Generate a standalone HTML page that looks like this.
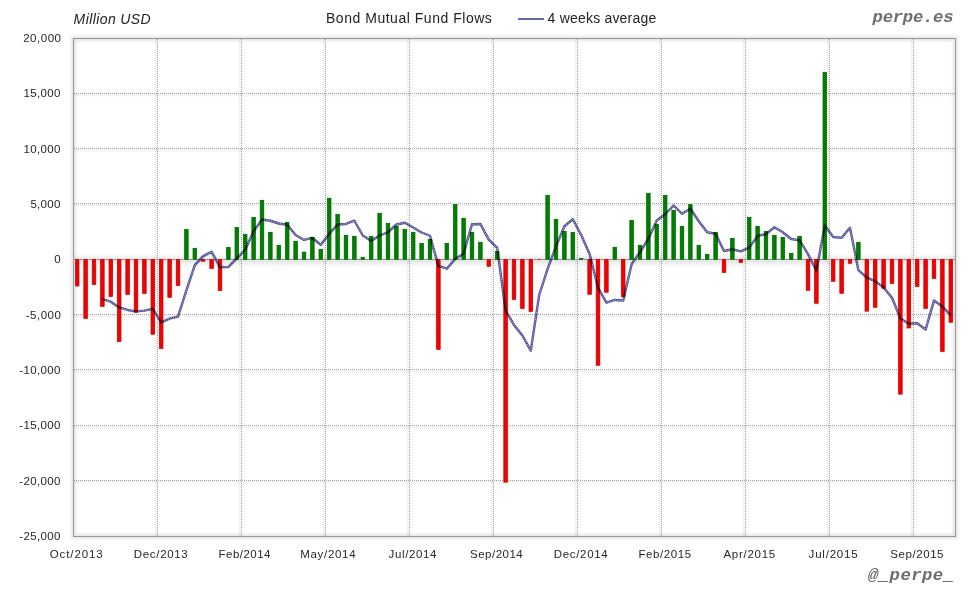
<!DOCTYPE html>
<html><head><meta charset="utf-8"><title>Bond Mutual Fund Flows</title>
<style>
html,body{margin:0;padding:0;background:#fff;}
body{width:980px;height:600px;overflow:hidden;}
svg{display:block;}
text{font-family:"Liberation Sans",sans-serif;}
.ax{font-size:11.5px;fill:#262626;}
.hd{font-size:14px;fill:#222;}
.g{fill:#008000;stroke:#005a00;stroke-width:0.7;}
.r{fill:#f80000;stroke:#b40000;stroke-width:0.7;}
.grid line{stroke:#a0a0a0;stroke-width:1;stroke-dasharray:1 1;}
.wm{font-family:"Liberation Mono",monospace;font-size:17.3px;font-weight:bold;font-style:italic;fill:#6e6e6e;}
</style></head>
<body>
<svg width="980" height="600" viewBox="0 0 980 600">
<defs>
<linearGradient id="zsh" x1="0" y1="0" x2="0" y2="1">
<stop offset="0" stop-color="#000" stop-opacity="0"/>
<stop offset="1" stop-color="#000" stop-opacity="0.09"/>
</linearGradient>
<linearGradient id="zsh2" x1="0" y1="0" x2="0" y2="1">
<stop offset="0" stop-color="#000" stop-opacity="0.11"/>
<stop offset="1" stop-color="#000" stop-opacity="0"/>
</linearGradient>
<filter id="blur" x="-5%" y="-5%" width="110%" height="110%"><feGaussianBlur stdDeviation="1.8"/></filter>
</defs>
<rect width="980" height="600" fill="#fff"/>
<rect x="73.5" y="38.5" width="882" height="498" fill="none" stroke="#000" stroke-opacity="0.10" stroke-width="5" filter="url(#blur)"/>
<g fill="#000" fill-opacity="0.045"><rect x="74" y="94.0" width="881" height="2.5"/><rect x="74" y="149.0" width="881" height="2.5"/><rect x="74" y="204.0" width="881" height="2.5"/><rect x="74" y="315.0" width="881" height="2.5"/><rect x="74" y="370.0" width="881" height="2.5"/><rect x="74" y="426.0" width="881" height="2.5"/><rect x="74" y="481.0" width="881" height="2.5"/><rect x="154.5" y="39" width="2.5" height="497"/><rect x="238.5" y="39" width="2.5" height="497"/><rect x="322.5" y="39" width="2.5" height="497"/><rect x="406.5" y="39" width="2.5" height="497"/><rect x="490.5" y="39" width="2.5" height="497"/><rect x="574.5" y="39" width="2.5" height="497"/><rect x="658.5" y="39" width="2.5" height="497"/><rect x="742.5" y="39" width="2.5" height="497"/><rect x="826.5" y="39" width="2.5" height="497"/><rect x="910.5" y="39" width="2.5" height="497"/></g>
<g class="grid"><line x1="74" y1="93.5" x2="955" y2="93.5"/><line x1="74" y1="148.5" x2="955" y2="148.5"/><line x1="74" y1="203.5" x2="955" y2="203.5"/><line x1="74" y1="314.5" x2="955" y2="314.5"/><line x1="74" y1="369.5" x2="955" y2="369.5"/><line x1="74" y1="425.5" x2="955" y2="425.5"/><line x1="74" y1="480.5" x2="955" y2="480.5"/><line x1="157.5" y1="39" x2="157.5" y2="536"/><line x1="241.5" y1="39" x2="241.5" y2="536"/><line x1="325.5" y1="39" x2="325.5" y2="536"/><line x1="409.5" y1="39" x2="409.5" y2="536"/><line x1="493.5" y1="39" x2="493.5" y2="536"/><line x1="577.5" y1="39" x2="577.5" y2="536"/><line x1="661.5" y1="39" x2="661.5" y2="536"/><line x1="745.5" y1="39" x2="745.5" y2="536"/><line x1="829.5" y1="39" x2="829.5" y2="536"/><line x1="913.5" y1="39" x2="913.5" y2="536"/></g>
<rect x="74" y="254" width="881" height="5" fill="url(#zsh)"/>
<rect x="74" y="260" width="881" height="7" fill="url(#zsh2)"/>
<line x1="74" y1="259.5" x2="955" y2="259.5" stroke="#8a8a8a" stroke-width="1"/>
<g><rect fill="#fde6e6" x="74.30" y="259.33" width="5.80" height="27.77"/><rect fill="#fde6e6" x="82.70" y="259.33" width="5.80" height="60.17"/><rect fill="#fde6e6" x="91.10" y="259.33" width="5.80" height="26.17"/><rect fill="#fde6e6" x="99.50" y="259.33" width="5.80" height="48.17"/><rect fill="#fde6e6" x="107.90" y="259.33" width="5.80" height="38.17"/><rect fill="#fde6e6" x="116.30" y="259.33" width="5.80" height="83.17"/><rect fill="#fde6e6" x="124.70" y="259.33" width="5.80" height="36.17"/><rect fill="#fde6e6" x="133.10" y="259.33" width="5.80" height="53.97"/><rect fill="#fde6e6" x="141.50" y="259.33" width="5.80" height="35.17"/><rect fill="#fde6e6" x="149.90" y="259.33" width="5.80" height="76.07"/><rect fill="#fde6e6" x="158.30" y="259.33" width="5.80" height="90.17"/><rect fill="#fde6e6" x="166.70" y="259.33" width="5.80" height="39.07"/><rect fill="#fde6e6" x="175.10" y="259.33" width="5.80" height="27.27"/><rect fill="#e6fbe6" x="183.50" y="228.30" width="5.80" height="31.03"/><rect fill="#e6fbe6" x="191.90" y="247.20" width="5.80" height="12.13"/><rect fill="#fde6e6" x="200.30" y="259.33" width="5.80" height="3.07"/><rect fill="#fde6e6" x="208.70" y="259.33" width="5.80" height="10.17"/><rect fill="#fde6e6" x="217.10" y="259.33" width="5.80" height="32.17"/><rect fill="#e6fbe6" x="225.50" y="246.30" width="5.80" height="13.03"/><rect fill="#e6fbe6" x="233.90" y="226.30" width="5.80" height="33.03"/><rect fill="#e6fbe6" x="242.30" y="233.20" width="5.80" height="26.13"/><rect fill="#e6fbe6" x="250.70" y="216.20" width="5.80" height="43.13"/><rect fill="#e6fbe6" x="259.10" y="199.20" width="5.80" height="60.13"/><rect fill="#e6fbe6" x="267.50" y="231.20" width="5.80" height="28.13"/><rect fill="#e6fbe6" x="275.90" y="244.20" width="5.80" height="15.13"/><rect fill="#e6fbe6" x="284.30" y="221.20" width="5.80" height="38.13"/><rect fill="#e6fbe6" x="292.70" y="240.20" width="5.80" height="19.13"/><rect fill="#e6fbe6" x="301.10" y="251.00" width="5.80" height="8.33"/><rect fill="#e6fbe6" x="309.50" y="236.20" width="5.80" height="23.13"/><rect fill="#e6fbe6" x="317.90" y="248.20" width="5.80" height="11.13"/><rect fill="#e6fbe6" x="326.30" y="197.10" width="5.80" height="62.23"/><rect fill="#e6fbe6" x="334.70" y="213.20" width="5.80" height="46.13"/><rect fill="#e6fbe6" x="343.10" y="234.20" width="5.80" height="25.13"/><rect fill="#e6fbe6" x="351.50" y="235.20" width="5.80" height="24.13"/><rect fill="#e6fbe6" x="359.90" y="256.20" width="5.80" height="3.13"/><rect fill="#e6fbe6" x="368.30" y="235.20" width="5.80" height="24.13"/><rect fill="#e6fbe6" x="376.70" y="212.20" width="5.80" height="47.13"/><rect fill="#e6fbe6" x="385.10" y="222.20" width="5.80" height="37.13"/><rect fill="#e6fbe6" x="393.50" y="225.20" width="5.80" height="34.13"/><rect fill="#e6fbe6" x="401.90" y="228.20" width="5.80" height="31.13"/><rect fill="#e6fbe6" x="410.30" y="231.20" width="5.80" height="28.13"/><rect fill="#e6fbe6" x="418.70" y="242.20" width="5.80" height="17.13"/><rect fill="#e6fbe6" x="427.10" y="238.20" width="5.80" height="21.13"/><rect fill="#fde6e6" x="435.50" y="259.33" width="5.80" height="91.17"/><rect fill="#e6fbe6" x="443.90" y="242.20" width="5.80" height="17.13"/><rect fill="#e6fbe6" x="452.30" y="203.20" width="5.80" height="56.13"/><rect fill="#e6fbe6" x="460.70" y="217.20" width="5.80" height="42.13"/><rect fill="#e6fbe6" x="469.10" y="231.20" width="5.80" height="28.13"/><rect fill="#e6fbe6" x="477.50" y="241.20" width="5.80" height="18.13"/><rect fill="#fde6e6" x="485.90" y="259.33" width="5.80" height="8.07"/><rect fill="#e6fbe6" x="494.30" y="250.20" width="5.80" height="9.13"/><rect fill="#fde6e6" x="502.70" y="259.33" width="5.80" height="223.97"/><rect fill="#fde6e6" x="511.10" y="259.33" width="5.80" height="41.17"/><rect fill="#fde6e6" x="519.50" y="259.33" width="5.80" height="50.17"/><rect fill="#fde6e6" x="527.90" y="259.33" width="5.80" height="53.17"/><rect fill="#fde6e6" x="536.30" y="259.33" width="5.80" height="1.37"/><rect fill="#e6fbe6" x="544.70" y="194.20" width="5.80" height="65.13"/><rect fill="#e6fbe6" x="553.10" y="218.20" width="5.80" height="41.13"/><rect fill="#e6fbe6" x="561.50" y="230.20" width="5.80" height="29.13"/><rect fill="#e6fbe6" x="569.90" y="231.20" width="5.80" height="28.13"/><rect fill="#e6fbe6" x="578.30" y="257.20" width="5.80" height="2.13"/><rect fill="#fde6e6" x="586.70" y="259.33" width="5.80" height="36.07"/><rect fill="#fde6e6" x="595.10" y="259.33" width="5.80" height="107.07"/><rect fill="#fde6e6" x="603.50" y="259.33" width="5.80" height="34.07"/><rect fill="#e6fbe6" x="611.90" y="246.20" width="5.80" height="13.13"/><rect fill="#fde6e6" x="620.30" y="259.33" width="5.80" height="38.47"/><rect fill="#e6fbe6" x="628.70" y="219.20" width="5.80" height="40.13"/><rect fill="#e6fbe6" x="637.10" y="244.20" width="5.80" height="15.13"/><rect fill="#e6fbe6" x="645.50" y="192.20" width="5.80" height="67.13"/><rect fill="#e6fbe6" x="653.90" y="223.20" width="5.80" height="36.13"/><rect fill="#e6fbe6" x="662.30" y="194.20" width="5.80" height="65.13"/><rect fill="#e6fbe6" x="670.70" y="209.20" width="5.80" height="50.13"/><rect fill="#e6fbe6" x="679.10" y="225.20" width="5.80" height="34.13"/><rect fill="#e6fbe6" x="687.50" y="203.20" width="5.80" height="56.13"/><rect fill="#e6fbe6" x="695.90" y="244.20" width="5.80" height="15.13"/><rect fill="#e6fbe6" x="704.30" y="253.20" width="5.80" height="6.13"/><rect fill="#e6fbe6" x="712.70" y="231.40" width="5.80" height="27.93"/><rect fill="#fde6e6" x="721.10" y="259.33" width="5.80" height="14.17"/><rect fill="#e6fbe6" x="729.50" y="237.20" width="5.80" height="22.13"/><rect fill="#fde6e6" x="737.90" y="259.33" width="5.80" height="4.17"/><rect fill="#e6fbe6" x="746.30" y="216.20" width="5.80" height="43.13"/><rect fill="#e6fbe6" x="754.70" y="225.20" width="5.80" height="34.13"/><rect fill="#e6fbe6" x="763.10" y="230.20" width="5.80" height="29.13"/><rect fill="#e6fbe6" x="771.50" y="234.20" width="5.80" height="25.13"/><rect fill="#e6fbe6" x="779.90" y="236.20" width="5.80" height="23.13"/><rect fill="#e6fbe6" x="788.30" y="252.20" width="5.80" height="7.13"/><rect fill="#e6fbe6" x="796.70" y="235.20" width="5.80" height="24.13"/><rect fill="#fde6e6" x="805.10" y="259.33" width="5.80" height="32.07"/><rect fill="#fde6e6" x="813.50" y="259.33" width="5.80" height="45.07"/><rect fill="#e6fbe6" x="821.90" y="71.30" width="5.80" height="188.03"/><rect fill="#fde6e6" x="830.30" y="259.33" width="5.80" height="23.07"/><rect fill="#fde6e6" x="838.70" y="259.33" width="5.80" height="35.07"/><rect fill="#fde6e6" x="847.10" y="259.33" width="5.80" height="5.07"/><rect fill="#e6fbe6" x="855.50" y="241.20" width="5.80" height="18.13"/><rect fill="#fde6e6" x="863.90" y="259.33" width="5.80" height="52.97"/><rect fill="#fde6e6" x="872.30" y="259.33" width="5.80" height="49.07"/><rect fill="#fde6e6" x="880.70" y="259.33" width="5.80" height="29.97"/><rect fill="#fde6e6" x="889.10" y="259.33" width="5.80" height="25.17"/><rect fill="#fde6e6" x="897.50" y="259.33" width="5.80" height="135.97"/><rect fill="#fde6e6" x="905.90" y="259.33" width="5.80" height="69.77"/><rect fill="#fde6e6" x="914.30" y="259.33" width="5.80" height="28.17"/><rect fill="#fde6e6" x="922.70" y="259.33" width="5.80" height="50.17"/><rect fill="#fde6e6" x="931.10" y="259.33" width="5.80" height="20.17"/><rect fill="#fde6e6" x="939.50" y="259.33" width="5.80" height="93.17"/><rect fill="#fde6e6" x="947.90" y="259.33" width="5.80" height="64.07"/></g>
<g><rect class="r" x="75.45" y="259.33" width="3.50" height="26.62"/><rect class="r" x="83.85" y="259.33" width="3.50" height="59.02"/><rect class="r" x="92.25" y="259.33" width="3.50" height="25.02"/><rect class="r" x="100.65" y="259.33" width="3.50" height="47.02"/><rect class="r" x="109.05" y="259.33" width="3.50" height="37.02"/><rect class="r" x="117.45" y="259.33" width="3.50" height="82.02"/><rect class="r" x="125.85" y="259.33" width="3.50" height="35.02"/><rect class="r" x="134.25" y="259.33" width="3.50" height="52.82"/><rect class="r" x="142.65" y="259.33" width="3.50" height="34.02"/><rect class="r" x="151.05" y="259.33" width="3.50" height="74.92"/><rect class="r" x="159.45" y="259.33" width="3.50" height="89.02"/><rect class="r" x="167.85" y="259.33" width="3.50" height="37.92"/><rect class="r" x="176.25" y="259.33" width="3.50" height="26.12"/><rect class="g" x="184.65" y="229.45" width="3.50" height="29.88"/><rect class="g" x="193.05" y="248.35" width="3.50" height="10.98"/><rect class="r" x="201.45" y="259.33" width="3.50" height="1.92"/><rect class="r" x="209.85" y="259.33" width="3.50" height="9.02"/><rect class="r" x="218.25" y="259.33" width="3.50" height="31.02"/><rect class="g" x="226.65" y="247.45" width="3.50" height="11.88"/><rect class="g" x="235.05" y="227.45" width="3.50" height="31.88"/><rect class="g" x="243.45" y="234.35" width="3.50" height="24.98"/><rect class="g" x="251.85" y="217.35" width="3.50" height="41.98"/><rect class="g" x="260.25" y="200.35" width="3.50" height="58.98"/><rect class="g" x="268.65" y="232.35" width="3.50" height="26.98"/><rect class="g" x="277.05" y="245.35" width="3.50" height="13.98"/><rect class="g" x="285.45" y="222.35" width="3.50" height="36.98"/><rect class="g" x="293.85" y="241.35" width="3.50" height="17.98"/><rect class="g" x="302.25" y="252.15" width="3.50" height="7.18"/><rect class="g" x="310.65" y="237.35" width="3.50" height="21.98"/><rect class="g" x="319.05" y="249.35" width="3.50" height="9.98"/><rect class="g" x="327.45" y="198.25" width="3.50" height="61.08"/><rect class="g" x="335.85" y="214.35" width="3.50" height="44.98"/><rect class="g" x="344.25" y="235.35" width="3.50" height="23.98"/><rect class="g" x="352.65" y="236.35" width="3.50" height="22.98"/><rect class="g" x="361.05" y="257.35" width="3.50" height="1.98"/><rect class="g" x="369.45" y="236.35" width="3.50" height="22.98"/><rect class="g" x="377.85" y="213.35" width="3.50" height="45.98"/><rect class="g" x="386.25" y="223.35" width="3.50" height="35.98"/><rect class="g" x="394.65" y="226.35" width="3.50" height="32.98"/><rect class="g" x="403.05" y="229.35" width="3.50" height="29.98"/><rect class="g" x="411.45" y="232.35" width="3.50" height="26.98"/><rect class="g" x="419.85" y="243.35" width="3.50" height="15.98"/><rect class="g" x="428.25" y="239.35" width="3.50" height="19.98"/><rect class="r" x="436.65" y="259.33" width="3.50" height="90.02"/><rect class="g" x="445.05" y="243.35" width="3.50" height="15.98"/><rect class="g" x="453.45" y="204.35" width="3.50" height="54.98"/><rect class="g" x="461.85" y="218.35" width="3.50" height="40.98"/><rect class="g" x="470.25" y="232.35" width="3.50" height="26.98"/><rect class="g" x="478.65" y="242.35" width="3.50" height="16.98"/><rect class="r" x="487.05" y="259.33" width="3.50" height="6.92"/><rect class="g" x="495.45" y="251.35" width="3.50" height="7.98"/><rect class="r" x="503.85" y="259.33" width="3.50" height="222.82"/><rect class="r" x="512.25" y="259.33" width="3.50" height="40.02"/><rect class="r" x="520.65" y="259.33" width="3.50" height="49.02"/><rect class="r" x="529.05" y="259.33" width="3.50" height="52.02"/><rect class="r" x="537.45" y="259.33" width="3.50" height="0.22"/><rect class="g" x="545.85" y="195.35" width="3.50" height="63.98"/><rect class="g" x="554.25" y="219.35" width="3.50" height="39.98"/><rect class="g" x="562.65" y="231.35" width="3.50" height="27.98"/><rect class="g" x="571.05" y="232.35" width="3.50" height="26.98"/><rect class="g" x="579.45" y="258.35" width="3.50" height="0.98"/><rect class="r" x="587.85" y="259.33" width="3.50" height="34.92"/><rect class="r" x="596.25" y="259.33" width="3.50" height="105.92"/><rect class="r" x="604.65" y="259.33" width="3.50" height="32.92"/><rect class="g" x="613.05" y="247.35" width="3.50" height="11.98"/><rect class="r" x="621.45" y="259.33" width="3.50" height="37.32"/><rect class="g" x="629.85" y="220.35" width="3.50" height="38.98"/><rect class="g" x="638.25" y="245.35" width="3.50" height="13.98"/><rect class="g" x="646.65" y="193.35" width="3.50" height="65.98"/><rect class="g" x="655.05" y="224.35" width="3.50" height="34.98"/><rect class="g" x="663.45" y="195.35" width="3.50" height="63.98"/><rect class="g" x="671.85" y="210.35" width="3.50" height="48.98"/><rect class="g" x="680.25" y="226.35" width="3.50" height="32.98"/><rect class="g" x="688.65" y="204.35" width="3.50" height="54.98"/><rect class="g" x="697.05" y="245.35" width="3.50" height="13.98"/><rect class="g" x="705.45" y="254.35" width="3.50" height="4.98"/><rect class="g" x="713.85" y="232.55" width="3.50" height="26.78"/><rect class="r" x="722.25" y="259.33" width="3.50" height="13.02"/><rect class="g" x="730.65" y="238.35" width="3.50" height="20.98"/><rect class="r" x="739.05" y="259.33" width="3.50" height="3.02"/><rect class="g" x="747.45" y="217.35" width="3.50" height="41.98"/><rect class="g" x="755.85" y="226.35" width="3.50" height="32.98"/><rect class="g" x="764.25" y="231.35" width="3.50" height="27.98"/><rect class="g" x="772.65" y="235.35" width="3.50" height="23.98"/><rect class="g" x="781.05" y="237.35" width="3.50" height="21.98"/><rect class="g" x="789.45" y="253.35" width="3.50" height="5.98"/><rect class="g" x="797.85" y="236.35" width="3.50" height="22.98"/><rect class="r" x="806.25" y="259.33" width="3.50" height="30.92"/><rect class="r" x="814.65" y="259.33" width="3.50" height="43.92"/><rect class="g" x="823.05" y="72.45" width="3.50" height="186.88"/><rect class="r" x="831.45" y="259.33" width="3.50" height="21.92"/><rect class="r" x="839.85" y="259.33" width="3.50" height="33.92"/><rect class="r" x="848.25" y="259.33" width="3.50" height="3.92"/><rect class="g" x="856.65" y="242.35" width="3.50" height="16.98"/><rect class="r" x="865.05" y="259.33" width="3.50" height="51.82"/><rect class="r" x="873.45" y="259.33" width="3.50" height="47.92"/><rect class="r" x="881.85" y="259.33" width="3.50" height="28.82"/><rect class="r" x="890.25" y="259.33" width="3.50" height="24.02"/><rect class="r" x="898.65" y="259.33" width="3.50" height="134.82"/><rect class="r" x="907.05" y="259.33" width="3.50" height="68.62"/><rect class="r" x="915.45" y="259.33" width="3.50" height="27.02"/><rect class="r" x="923.85" y="259.33" width="3.50" height="49.02"/><rect class="r" x="932.25" y="259.33" width="3.50" height="19.02"/><rect class="r" x="940.65" y="259.33" width="3.50" height="92.02"/><rect class="r" x="949.05" y="259.33" width="3.50" height="62.92"/></g>
<g style="mix-blend-mode:multiply"><polyline points="102.40,299.10 110.80,301.70 119.20,307.45 127.60,309.95 136.00,311.40 144.40,310.65 152.80,308.88 161.20,322.38 169.60,318.65 178.00,316.68 186.40,290.30 194.80,265.12 203.20,256.12 211.60,251.85 220.00,267.25 228.40,267.02 236.80,258.40 245.20,249.72 253.60,231.30 262.00,219.53 270.40,220.75 278.80,223.50 287.20,224.75 295.60,235.00 304.00,239.95 312.40,237.95 320.80,244.70 329.20,233.92 337.60,224.47 346.00,223.97 354.40,220.72 362.80,235.50 371.20,241.00 379.60,235.50 388.00,232.25 396.40,224.50 404.80,222.75 413.20,227.50 421.60,232.50 430.00,235.75 438.40,265.93 446.80,268.68 455.20,258.93 463.60,253.68 472.00,224.25 480.40,224.00 488.80,239.65 497.20,247.90 505.60,310.52 514.00,324.95 522.40,335.48 530.80,350.65 539.20,295.00 547.60,268.82 556.00,246.40 564.40,226.22 572.80,219.25 581.20,235.00 589.60,253.90 598.00,287.55 606.40,302.70 614.80,299.95 623.20,300.55 631.60,264.15 640.00,252.25 648.40,238.75 656.80,220.50 665.20,214.25 673.60,205.50 682.00,213.75 690.40,208.75 698.80,221.25 707.20,232.25 715.60,233.80 724.00,250.98 732.40,249.22 740.80,251.40 749.20,247.60 757.60,235.93 766.00,234.18 774.40,227.25 782.80,232.25 791.20,239.00 799.60,240.25 808.00,254.15 816.40,270.80 824.80,225.58 833.20,236.98 841.60,237.73 850.00,227.73 858.40,270.20 866.80,277.68 875.20,281.18 883.60,287.40 892.00,297.82 900.40,318.57 908.80,323.75 917.20,323.30 925.60,329.55 934.00,300.60 942.40,306.45 950.80,315.43" fill="none" stroke="#3c3c88" stroke-opacity="0.92" stroke-width="2.4" stroke-linejoin="round"/>
<polyline points="102.40,299.10 110.80,301.70 119.20,307.45 127.60,309.95 136.00,311.40 144.40,310.65 152.80,308.88 161.20,322.38 169.60,318.65 178.00,316.68 186.40,290.30 194.80,265.12 203.20,256.12 211.60,251.85 220.00,267.25 228.40,267.02 236.80,258.40 245.20,249.72 253.60,231.30 262.00,219.53 270.40,220.75 278.80,223.50 287.20,224.75 295.60,235.00 304.00,239.95 312.40,237.95 320.80,244.70 329.20,233.92 337.60,224.47 346.00,223.97 354.40,220.72 362.80,235.50 371.20,241.00 379.60,235.50 388.00,232.25 396.40,224.50 404.80,222.75 413.20,227.50 421.60,232.50 430.00,235.75 438.40,265.93 446.80,268.68 455.20,258.93 463.60,253.68 472.00,224.25 480.40,224.00 488.80,239.65 497.20,247.90 505.60,310.52 514.00,324.95 522.40,335.48 530.80,350.65 539.20,295.00 547.60,268.82 556.00,246.40 564.40,226.22 572.80,219.25 581.20,235.00 589.60,253.90 598.00,287.55 606.40,302.70 614.80,299.95 623.20,300.55 631.60,264.15 640.00,252.25 648.40,238.75 656.80,220.50 665.20,214.25 673.60,205.50 682.00,213.75 690.40,208.75 698.80,221.25 707.20,232.25 715.60,233.80 724.00,250.98 732.40,249.22 740.80,251.40 749.20,247.60 757.60,235.93 766.00,234.18 774.40,227.25 782.80,232.25 791.20,239.00 799.60,240.25 808.00,254.15 816.40,270.80 824.80,225.58 833.20,236.98 841.60,237.73 850.00,227.73 858.40,270.20 866.80,277.68 875.20,281.18 883.60,287.40 892.00,297.82 900.40,318.57 908.80,323.75 917.20,323.30 925.60,329.55 934.00,300.60 942.40,306.45 950.80,315.43" fill="none" stroke="#c6c6ec" stroke-width="0.9" stroke-dasharray="1.3 1.1" stroke-linejoin="round"/></g>
<rect x="73.5" y="38.5" width="882" height="498" fill="none" stroke="#999" stroke-width="1"/>
<text class="ax" x="23.2" y="42.1" letter-spacing="0.52">20,000</text><text class="ax" x="23.5" y="97.4" letter-spacing="0.32">15,000</text><text class="ax" x="23.5" y="152.8" letter-spacing="0.32">10,000</text><text class="ax" x="30.4" y="208.1" letter-spacing="0.3">5,000</text><text class="ax" x="54.3" y="263.4" letter-spacing="0.6">0</text><text class="ax" x="25.7" y="318.8" letter-spacing="0.52">-5,000</text><text class="ax" x="19.2" y="374.1" letter-spacing="0.367">-10,000</text><text class="ax" x="19.2" y="429.4" letter-spacing="0.367">-15,000</text><text class="ax" x="19.2" y="484.7" letter-spacing="0.367">-20,000</text><text class="ax" x="19.2" y="540.1" letter-spacing="0.367">-25,000</text><text class="ax" x="49.8" y="558.0" letter-spacing="0.875">Oct/2013</text><text class="ax" x="133.8" y="558.0" letter-spacing="0.675">Dec/2013</text><text class="ax" x="218.6" y="558.0" letter-spacing="0.47">Feb/2014</text><text class="ax" x="300.2" y="558.0" letter-spacing="0.699">May/2014</text><text class="ax" x="388.6" y="558.0" letter-spacing="0.613">Jul/2014</text><text class="ax" x="470.0" y="558.0" letter-spacing="0.497">Sep/2014</text><text class="ax" x="553.8" y="558.0" letter-spacing="0.67">Dec/2014</text><text class="ax" x="638.4" y="558.0" letter-spacing="0.584">Feb/2015</text><text class="ax" x="723.4" y="558.0" letter-spacing="0.726">Apr/2015</text><text class="ax" x="808.6" y="558.0" letter-spacing="0.788">Jul/2015</text><text class="ax" x="890.2" y="558.0" letter-spacing="0.584">Sep/2015</text><text class="hd" x="73.6" y="24.0" font-style="italic" letter-spacing="0.4">Million USD</text><text class="hd" x="326.0" y="23.0" letter-spacing="0.524">Bond Mutual Fund Flows</text><text class="hd" x="547.6" y="23.0" letter-spacing="0.198">4 weeks average</text><text class="wm" x="872.6" y="21.8" letter-spacing="-0.286">perpe.es</text><text class="wm" x="868.0" y="579.6" letter-spacing="0.429">@_perpe_</text>
<line x1="518" y1="19" x2="544" y2="19" stroke="#4c4ca2" stroke-width="1.7"/>
</svg>
</body></html>
